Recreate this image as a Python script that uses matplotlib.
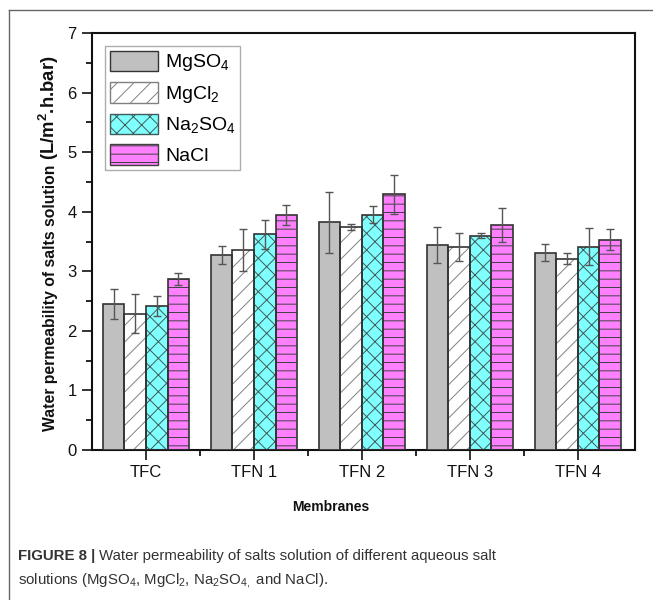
import numpy as np
import matplotlib
matplotlib.use("Agg")
import matplotlib.pyplot as plt
from matplotlib.lines import Line2D
from matplotlib.patches import Rectangle

plt.rcParams["font.family"] = ["Liberation Sans", "DejaVu Sans"]
plt.rcParams["mathtext.fontset"] = "custom"
plt.rcParams["mathtext.rm"] = "Liberation Sans"
plt.rcParams["mathtext.it"] = "Liberation Sans:italic"
plt.rcParams["mathtext.bf"] = "Liberation Sans:bold"
plt.rcParams["hatch.linewidth"] = 0.7

# data
membranes = ["TFC", "TFN 1", "TFN 2", "TFN 3", "TFN 4"]
salts = ["MgSO$_4$", "MgCl$_2$", "Na$_2$SO$_4$", "NaCl"]
mgso4 = [2.45, 3.27, 3.82, 3.44, 3.31]
mgso4_err = [0.25, 0.15, 0.51, 0.30, 0.14]
mgcl2 = [2.29, 3.36, 3.74, 3.41, 3.21]
mgcl2_err = [0.33, 0.35, 0.05, 0.24, 0.09]
na2so4 = [2.42, 3.62, 3.95, 3.60, 3.41]
na2so4_err = [0.17, 0.24, 0.14, 0.04, 0.31]
nacl = [2.87, 3.95, 4.29, 3.78, 3.53]
nacl_err = [0.10, 0.17, 0.33, 0.28, 0.18]

series = [mgso4, mgcl2, na2so4, nacl]
errors = [mgso4_err, mgcl2_err, na2so4_err, nacl_err]
faces = ["#c0c0c0", "#ffffff", "#80ffff", "#ff80ff"]
hatches = [None, "//", "xx", "--"]
hatch_cols = ["#333333", "#808080", "#405a5a", "#404040"]
EDGE = "#333333"

fig = plt.figure(figsize=(6.53, 6.0), dpi=100)
ax = fig.add_axes([0.1409, 0.25, 0.9724 - 0.1409, 0.945 - 0.25])

x = np.arange(1, len(membranes) + 1)
w = 0.2
handles = []
for i, (vals, errs) in enumerate(zip(series, errors)):
    pos = x + (i - 1.5) * w
    if hatches[i]:
        ax.bar(pos, vals, w, color=faces[i], edgecolor=hatch_cols[i],
               hatch=hatches[i], linewidth=0, zorder=2)
        ax.bar(pos, vals, w, fill=False, edgecolor=EDGE, linewidth=1.2, zorder=3)
    else:
        ax.bar(pos, vals, w, color=faces[i], edgecolor=EDGE, linewidth=1.2, zorder=3)
    ax.errorbar(pos, vals, yerr=errs, fmt="none", ecolor="#555555",
                elinewidth=1.0, capsize=3, capthick=1.0, zorder=4)
    handles.append(Rectangle((0, 0), 1, 1, facecolor=faces[i],
                             edgecolor=EDGE if hatches[i] is None else hatch_cols[i],
                             hatch=hatches[i], linewidth=1.0))

ax.set_xlim(0.5, 5.53)
ax.set_ylim(0, 7)
ax.set_xticks(x)
ax.set_xticklabels(membranes)
ax.set_xticks(np.arange(1.5, 5.5, 1), minor=True)
ax.set_yticks(range(0, 8))
ax.set_yticks(np.arange(0.5, 7, 1), minor=True)
ax.tick_params(axis="both", which="major", direction="out", length=7, width=1.2,
               labelsize=12, colors="#111111", pad=4)
ax.tick_params(axis="both", which="minor", direction="out", length=4, width=1.2)
for s in ax.spines.values():
    s.set_linewidth(1.5)
    s.set_color("#111111")

leg = ax.legend(handles, salts, loc="upper left", fontsize=14,
                handlelength=2.5, handleheight=1.25, labelspacing=0.45,
                handletextpad=0.35, borderpad=0.25, borderaxespad=0.65,
                fancybox=False, frameon=True)
leg.get_frame().set_edgecolor("#999999")
leg.get_frame().set_linewidth(1.0)

# y label in two sizes
ylab_x = 55 / 653
ylab_y = 1 - 160 / 600
fig.text(ylab_x, ylab_y, "Water permeability of salts solution ",
         rotation=90, rotation_mode="anchor", ha="right", va="baseline",
         fontsize=11.3, fontweight="bold", color="#111111")
fig.text(ylab_x, ylab_y, "(L/m$^\\mathbf{2}$.h.bar)",
         rotation=90, rotation_mode="anchor", ha="left", va="baseline",
         fontsize=13.3, fontweight="bold", color="#111111")

fig.text(331 / 653, 1 - 507 / 600, "Membranes", ha="center", va="center",
         fontsize=10, fontweight="bold", color="#111111")

# caption
cap_font = ["Liberation Sans Narrow", "Liberation Sans"]
cap_size = 10.8
t1 = fig.text(18 / 653, 1 - 556 / 600, "FIGURE 8 |", ha="left", va="center",
              fontsize=cap_size, fontweight="bold", color="#333333", family=cap_font)
fig.canvas.draw()
bb = t1.get_window_extent()
fig.text(bb.x1 / fig.bbox.width + 4 / 653, 1 - 556 / 600,
         "Water permeability of salts solution of different aqueous salt",
         ha="left", va="center", fontsize=cap_size, color="#333333", family=cap_font)
fig.text(18 / 653, 1 - 581 / 600,
         "solutions (MgSO$_4$, MgCl$_2$, Na$_2$SO$_{4,}$ and NaCl).",
         ha="left", va="center", fontsize=cap_size, color="#333333", family=cap_font)

# page frame
fig.add_artist(Line2D([9 / 653, 1], [1 - 10 / 600, 1 - 10 / 600],
                      transform=fig.transFigure, color="#666666", linewidth=1.0))
fig.add_artist(Line2D([9 / 653, 9 / 653], [0, 1 - 10 / 600],
                      transform=fig.transFigure, color="#666666", linewidth=1.0))

fig.savefig("out.png", dpi=100)
